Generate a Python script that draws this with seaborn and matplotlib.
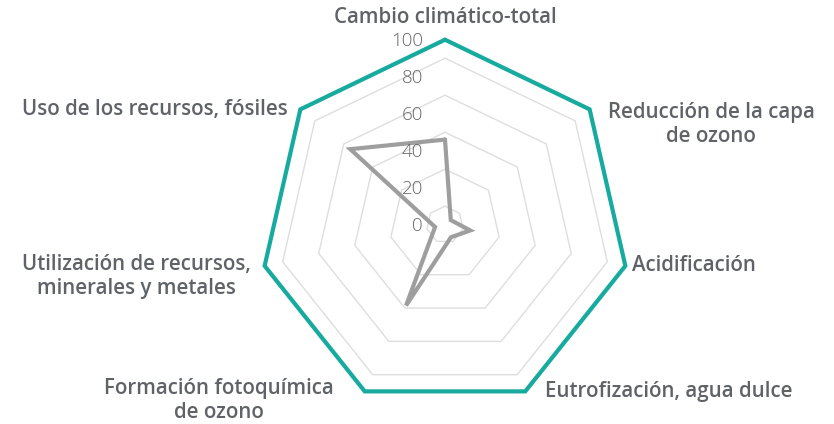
import numpy as np
import pandas as pd
import matplotlib
matplotlib.use("Agg")
import matplotlib.pyplot as plt
import seaborn as sns

categories = [
    "Cambio climático-total",
    "Reducción de la capa\nde ozono",
    "Acidificación",
    "Eutrofización, agua dulce",
    "Formación fotoquímica\nde ozono",
    "Utilización de recursos,\nminerales y metales",
    "Uso de los recursos, fósiles",
]
reference_values = [100, 100, 100, 100, 100, 100, 100]
product_values = [46, 4, 14, 7.5, 48.5, 5.5, 65.5]
tick_values = [0, 20, 40, 60, 80, 100]
grid_values = [10, 30, 50, 70, 90, 100]

sns.set_theme(style="white")
plt.rcParams['font.family'] = ['Open Sans', 'DejaVu Sans']

W, H = 834, 424
fig = plt.figure(figsize=(W / 100, H / 100), dpi=100)
cx, cy, R = 445, 224.7, 185
ax = fig.add_axes([(cx - R) / W, (H - cy - R) / H, 2 * R / W, 2 * R / H], projection="polar")
ax.set_theta_offset(np.pi / 2)
ax.set_theta_direction(-1)
ax.set_ylim(0, 100)
ax.grid(False)
ax.spines["polar"].set_visible(False)
ax.set_xticks([])
ax.set_yticks([])
ax.patch.set_alpha(0)

n = len(categories)
theta = np.arange(n) * 2 * np.pi / n
theta_closed = np.append(theta, theta[0])

# polygon grid rings
for g in grid_values:
    ax.plot(theta_closed, [g] * (n + 1), color="#dedede", lw=1, zorder=1, clip_on=False)

df = pd.DataFrame({
    "theta": np.concatenate([theta_closed, theta_closed]),
    "value": reference_values + [reference_values[0]] + product_values + [product_values[0]],
    "series": ["ref"] * (n + 1) + ["prod"] * (n + 1),
})
sns.lineplot(data=df[df.series == "prod"], x="theta", y="value", sort=False, ax=ax,
             color="#9e9e9e", lw=3, estimator=None, zorder=3)
sns.lineplot(data=df[df.series == "ref"], x="theta", y="value", sort=False, ax=ax,
             color="#17aa9e", lw=3, estimator=None, zorder=4)
for line in ax.lines:
    line.set_clip_on(False)
    line.set_solid_joinstyle("miter")
ax.set_xlabel("")
ax.set_ylabel("")
if ax.get_legend():
    ax.get_legend().remove()

# radial tick labels
for t in tick_values:
    ax.annotate(str(t), xy=(0, t), xytext=(-22, -1), textcoords="offset pixels",
                ha="right", va="center", fontsize=13.5, color="#666666", fontweight="light",
                annotation_clip=False)

# category labels
offsets = [
    ((0, 22), "center"),
    ((18, -15), "left"),
    ((7, 0), "left"),
    ((20, 0), "left"),
    ((-31, -9), "right"),
    ((-14, -11), "right"),
    ((-13, 0), "right"),
]
for th, lab, (off, ha) in zip(theta, categories, offsets):
    ax.annotate(lab, xy=(th, 100), xytext=off, textcoords="offset pixels",
                ha=ha, va="center", multialignment="center", fontsize=14.8,
                fontweight="semibold", color="#5f6368", linespacing=1.2,
                annotation_clip=False)

fig.savefig("out.png", dpi=100)
